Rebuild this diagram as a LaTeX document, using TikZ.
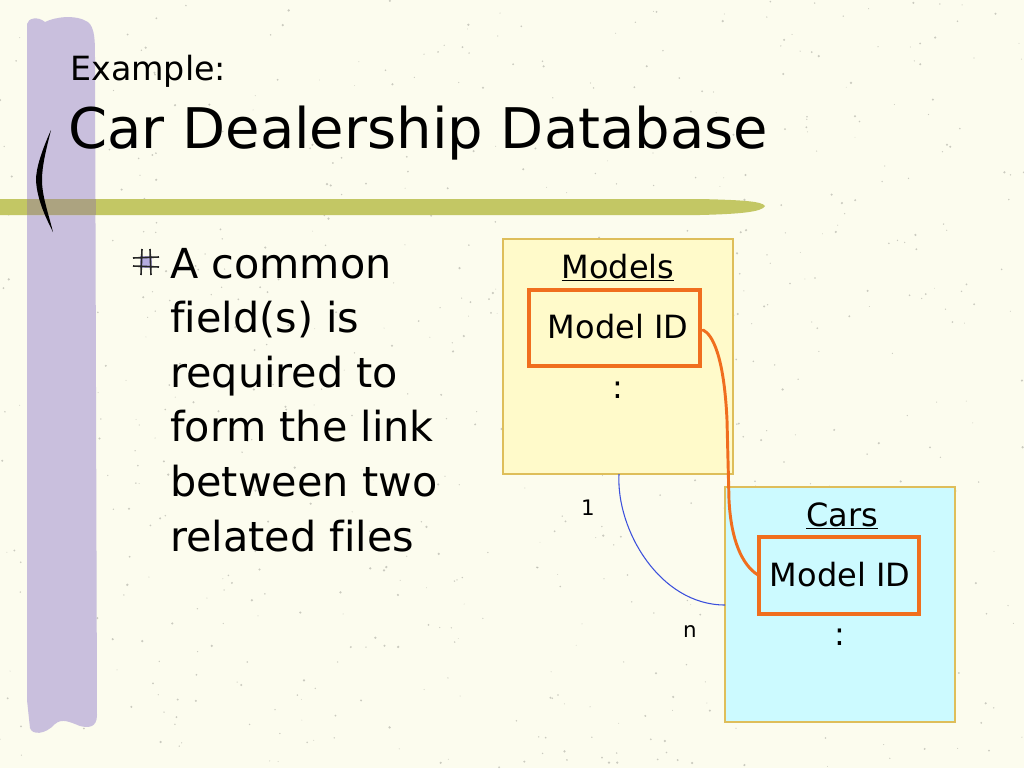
\documentclass[tikz,border=0pt]{standalone}
\usepackage{fontspec}
\setmainfont[Ligatures=NoCommon]{DejaVu Sans}
\begin{document}
\begin{tikzpicture}[x=0.75pt,y=-0.75pt,
  table/.style={draw=boxedge, line width=0.9pt},
  fieldbox/.style={draw=fieldorange, line width=2.4pt},
  lbl/.style={inner sep=0pt, anchor=base},
  link/.style={draw=fieldorange, line width=2.2pt},
  rel/.style={draw=relblue, line width=0.8pt}]
\definecolor{bg}{RGB}{252,252,238}
\definecolor{barpurple}{RGB}{201,191,221}
\definecolor{bargreen}{RGB}{195,199,100}
\definecolor{overlap}{RGB}{172,163,128}
\definecolor{modelsfill}{RGB}{255,250,202}
\definecolor{carsfill}{RGB}{204,250,255}
\definecolor{boxedge}{RGB}{222,190,90}
\definecolor{fieldorange}{RGB}{240,110,30}
\definecolor{relblue}{RGB}{60,80,220}
\definecolor{speck}{RGB}{170,170,160}
\useasboundingbox (0,0) rectangle (1024,768);
\fill[bg] (0,0) rectangle (1024,768);
% speckles
\pgfmathsetseed{7}
\foreach \i in {1,...,700}{
  \pgfmathsetmacro{\sx}{rnd*1024}
  \pgfmathsetmacro{\sy}{rnd*768}
  \pgfmathsetmacro{\sr}{0.4+rnd*0.9}
  \fill[speck, opacity=0.6] (\sx,\sy) circle[radius=\sr];
}
% purple bar
\fill[barpurple] (27,24) .. controls (28,18) and (38,16) .. (45,22)
  .. controls (55,17) and (75,14) .. (88,22) .. controls (95,28) and (95,40) .. (95,60)
  -- (97,715) .. controls (97,728) and (88,728) .. (80,726)
  .. controls (70,722) and (62,718) .. (55,724) .. controls (45,735) and (32,735) .. (30,728)
  -- (27,700) -- cycle;
% green stroke
\fill[bargreen] (0,199) -- (700,199) .. controls (740,200) and (762,201) .. (765,206)
  .. controls (762,212) and (740,214) .. (700,215) -- (0,215) -- cycle;
\fill[overlap] (27,199) rectangle (96,215);
% bracket
\fill[black] (51,130) .. controls (42,150) and (36,168) .. (36,180)
  .. controls (37,200) and (46,218) .. (53,232)
  .. controls (48,212) and (42,196) .. (42,180)
  .. controls (42,166) and (46,150) .. (51,130) -- cycle;
% title
\node[lbl, anchor=base west] (t1) at (70,80) {\fontsize{25}{30}\selectfont Example:};
\node[lbl, anchor=base west] (t2) at (68,148) {\fontsize{42}{50}\selectfont Car Dealership Database};
% bullet
\fill[barpurple!90!blue] (140,256) rectangle (152,268);
\draw[black!85, line width=1.2pt] (142,249) -- (141,275) (150,249) -- (151,275)
  (133,258) -- (159,257) (133,266) -- (159,267);
\foreach \t [count=\k] in {A common, field(s) is, required to, form the link, between two, related files}{
  \node[lbl, anchor=base west] (b\k) at (170,{278+(\k-1)*54.6}) {\fontsize{31}{36}\selectfont \t};
}
% Models table
\draw[table, fill=modelsfill] (503,239) rectangle (733,474);
\node[lbl] (mt) at (618,278) {\fontsize{24}{28}\selectfont \underline{Models}};
\node[fieldbox, minimum width=171*0.75pt, minimum height=76*0.75pt, inner sep=0pt] (mf) at (614.5,328) {};
\node[lbl] (mft) at (618,338) {\fontsize{24}{28}\selectfont Model ID};
\node[lbl] (md) at (618,398) {\fontsize{24}{28}\selectfont :};
% Cars table
\draw[table, fill=carsfill] (725,487) rectangle (955,722);
\node[lbl] (ct) at (842,526) {\fontsize{24}{28}\selectfont \underline{Cars}};
\node[fieldbox, minimum width=160*0.75pt, minimum height=77*0.75pt, inner sep=0pt] (cf) at (839,575.5) {};
\node[lbl] (cft) at (840,586) {\fontsize{24}{28}\selectfont Model ID};
\node[lbl] (cd) at (840,645) {\fontsize{24}{28}\selectfont :};
% links
\coordinate (ma) at (703,330);
\coordinate (ca) at (758,575);
\draw[link, line cap=round] (ma) .. controls (712,334) and (724,355) .. (727,420)
  -- (729,500) .. controls (731,540) and (742,565) .. (ca);
\coordinate (rb) at (619,474);
\coordinate (re) at (725,605);
\draw[rel] (rb) .. controls (616,530) and (660,605) .. (re);
\node[lbl] (one) at (588,515) {\fontsize{16}{18}\selectfont 1};
\node[lbl] (n) at (690,637) {\fontsize{16}{18}\selectfont n};
\end{tikzpicture}
\end{document}
